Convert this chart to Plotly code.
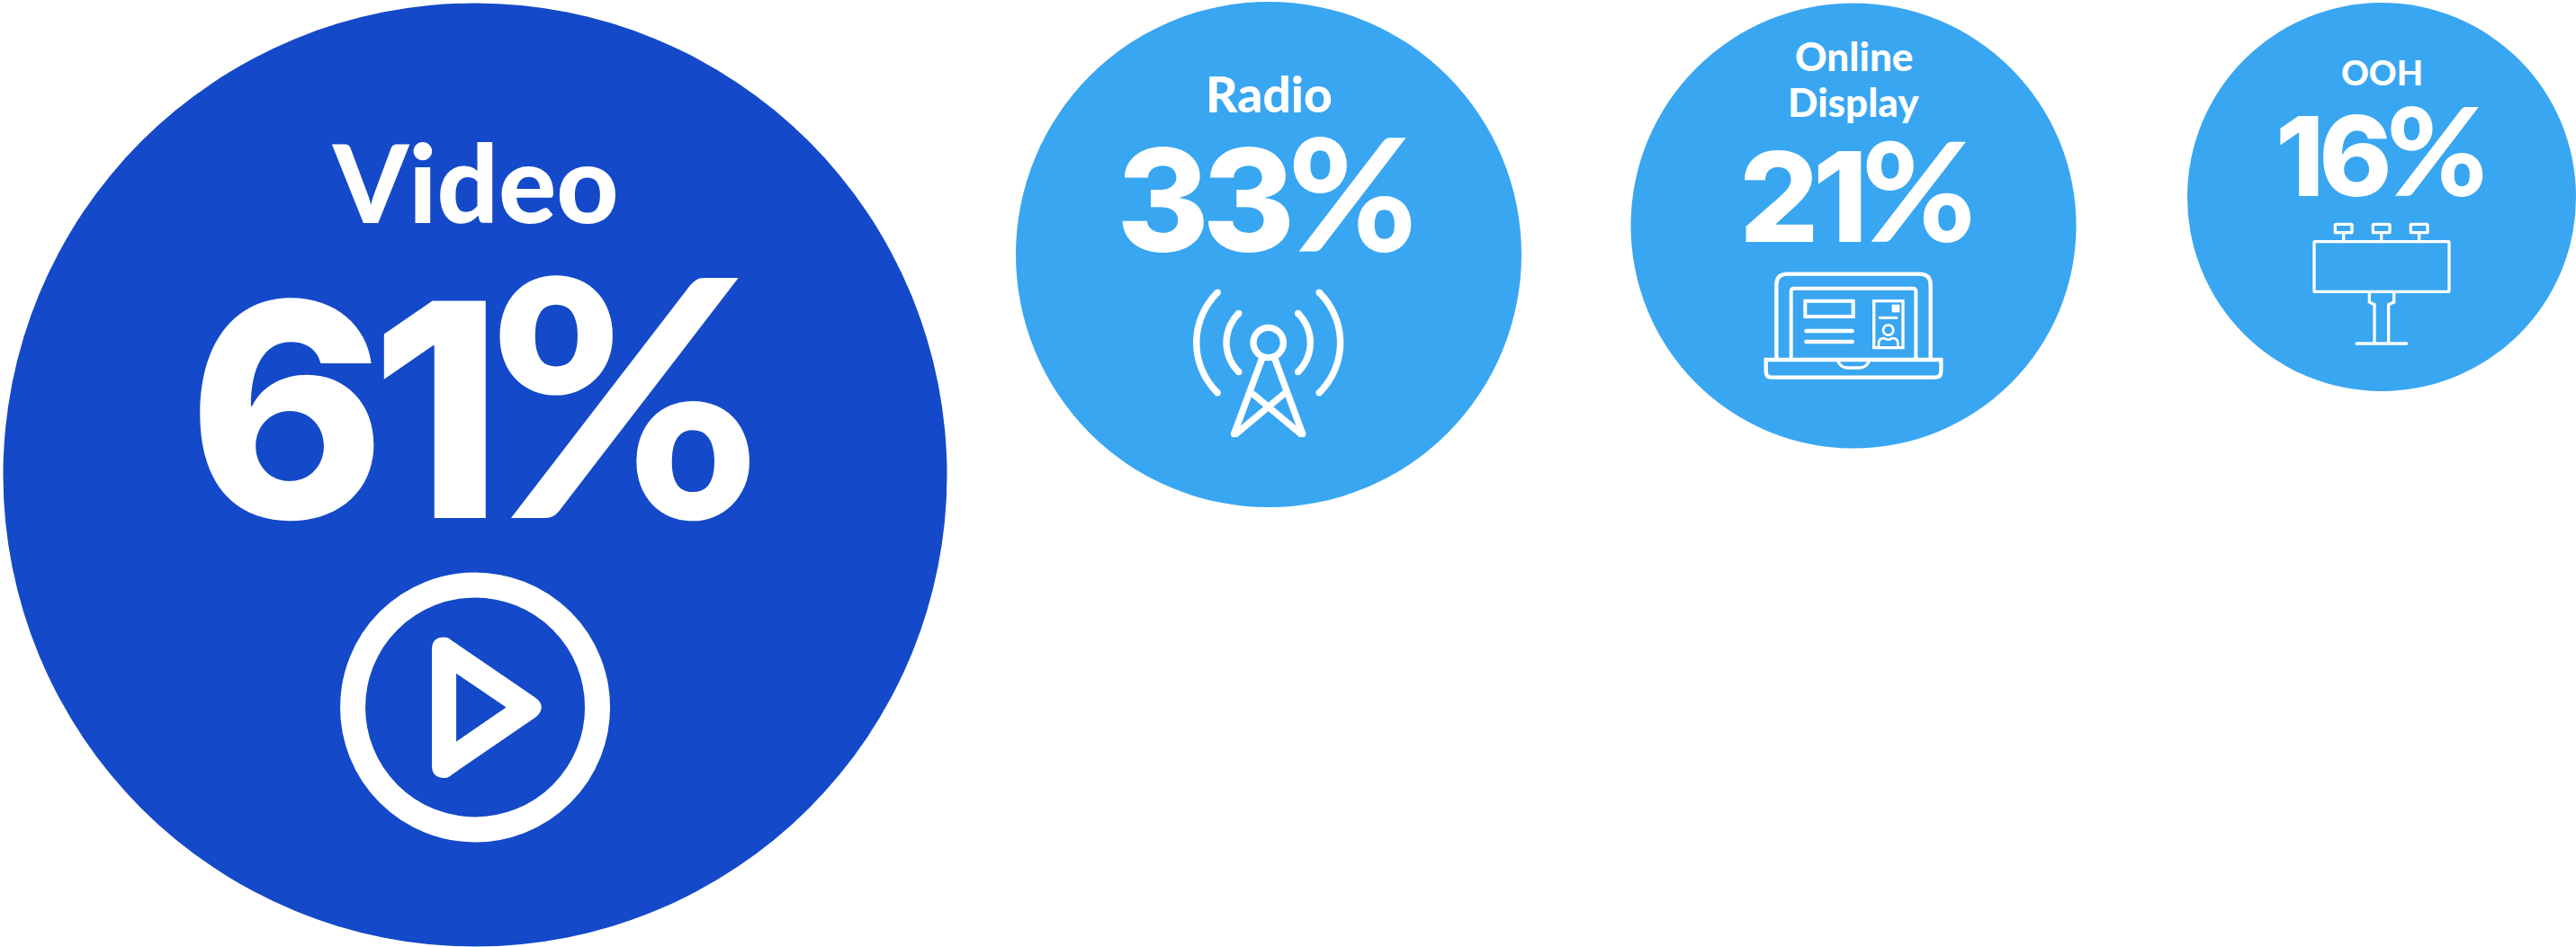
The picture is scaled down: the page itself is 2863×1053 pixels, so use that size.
import math
import plotly.graph_objects as go

# Media channels and their share
categories = ["Video", "Radio", "Online Display", "OOH"]
shares = [61, 33, 21, 16]

# Bubble layout on the page, in pixels
bubble_x = [528, 1410, 2060, 2647]
bubble_y = [528, 283, 251, 219]
bubble_diameter = [1049, 562, 495, 432]

DARK = "#1449C9"
LIGHT = "#39A6F1"
bubble_colors = [DARK, LIGHT, LIGHT, LIGHT]
WHITE = "#FFFFFF"
NAME_FONT = "Lato"
VALUE_FONT = "Inter"
WIDTH, HEIGHT = 2863, 1053

# Text placement: value label centre and size; category label line centres and size
value_pos = [(527, 434), (1408, 212), (2064, 210), (2646, 166)]
value_size = [350, 165, 146, 129]
name_lines_y = [[202], [104], [62, 113], [80]]
name_size = [120, 55, 44, 38]

shapes = []


def value_label(share, size):
    """Tightly spaced digits followed by a larger, rounder percent sign."""
    return (f'<span style="letter-spacing:-0.05em;font-size:{size * 0.95:.0f}px">{share}</span>'
            f'<span style="font-family:{NAME_FONT};font-weight:900;font-size:{size * 1.05:.0f}px">%</span>')


def grid(ox, oy, kx, ky):
    """Icon drawing grid: returns a mapper from grid units to page pixels."""
    return lambda x, y: (ox + x * kx, oy + y * ky)


def add_path(d, width=0, fill=None, rule=None):
    s = dict(type="path", path=d, xref="x", yref="y", layer="above",
             line=dict(color=WHITE, width=width),
             fillcolor=fill if fill else "rgba(0,0,0,0)")
    if rule:
        s["fillrule"] = rule
    shapes.append(s)


def add_dot(p, r):
    shapes.append(dict(type="circle", xref="x", yref="y", x0=p[0] - r, x1=p[0] + r,
                       y0=p[1] - r, y1=p[1] + r, fillcolor=WHITE,
                       line=dict(width=0, color=WHITE)))


def add_ring(p, r, width):
    shapes.append(dict(type="circle", xref="x", yref="y", x0=p[0] - r, x1=p[0] + r,
                       y0=p[1] - r, y1=p[1] + r, fillcolor="rgba(0,0,0,0)",
                       line=dict(width=width, color=WHITE)))


def polyline(points, width, caps=False, close=False):
    d = "M" + " L".join(f"{x:.2f},{y:.2f}" for x, y in points) + (" Z" if close else "")
    add_path(d, width)
    if caps:
        add_dot(points[0], width / 2)
        add_dot(points[-1], width / 2)


def rect(g, x0, y0, x1, y1, width, r=0):
    a, b = g(x0, y0), g(x1, y1)
    r *= g(1, 0)[0] - g(0, 0)[0]
    if r:
        d = (f"M{a[0]+r},{a[1]} L{b[0]-r},{a[1]} Q{b[0]},{a[1]} {b[0]},{a[1]+r} "
             f"L{b[0]},{b[1]-r} Q{b[0]},{b[1]} {b[0]-r},{b[1]} L{a[0]+r},{b[1]} "
             f"Q{a[0]},{b[1]} {a[0]},{b[1]-r} L{a[0]},{a[1]+r} Q{a[0]},{a[1]} {a[0]+r},{a[1]} Z")
    else:
        d = f"M{a[0]},{a[1]} L{b[0]},{a[1]} L{b[0]},{b[1]} L{a[0]},{b[1]} Z"
    add_path(d, width)


def q_path(g, cmds):
    """Build an SVG path from (letter, x, y, ...) tuples given in grid units."""
    out = []
    for c in cmds:
        if c[0] == "Z":
            out.append("Z")
            continue
        coords = []
        for i in range(1, len(c), 2):
            x, y = g(c[i], c[i + 1])
            coords.append(f"{x:.2f},{y:.2f}")
        out.append(c[0] + " ".join(coords))
    return " ".join(out)


def play_icon():
    g = grid(0, 0, 1 / 1.479, 1 / 1.489)
    add_ring(g(781, 1171), 136, 28)
    d = q_path(g, [("M", 710, 1268), ("L", 710, 1075), ("Q", 710, 1055, 730, 1055),
                   ("Q", 737, 1055, 742, 1060), ("L", 880, 1155), ("Q", 890, 1162, 890, 1171),
                   ("Q", 890, 1180, 880, 1188), ("L", 742, 1283), ("Q", 737, 1288, 730, 1288),
                   ("Q", 710, 1288, 710, 1268), ("Z",),
                   ("M", 750, 1115), ("L", 832, 1171), ("L", 750, 1228), ("Z",)])
    add_path(d, 0, WHITE, "evenodd")


def radio_icon():
    k = 1 / 2.703
    g = grid(1120, 0, k, 1 / 2.74)
    w = 20 * k
    cx, cy = 783, 1044
    add_ring(g(cx, cy), 45 * k, w)
    for radius in (126, 216):
        for centre in (180, 0):
            pts = [g(cx + radius * math.cos(math.radians(centre + a)),
                     cy + radius * math.sin(math.radians(centre + a)))
                   for a in range(-45, 46, 3)]
            polyline(pts, w, caps=True)
    polyline([g(763, 1095), g(680, 1322)], w, caps=True)
    polyline([g(803, 1095), g(886, 1322)], w, caps=True)
    polyline([g(682, 1325), g(832, 1198)], w)
    polyline([g(884, 1325), g(734, 1198)], w)


def laptop_icon():
    k = 1 / 3
    g = grid(1800, 0, k, k)
    add_path(q_path(g, [("M", 523, 1195), ("L", 523, 950), ("Q", 523, 914, 560, 914),
                        ("L", 1000, 914), ("Q", 1037, 914, 1037, 950), ("L", 1037, 1195)]), 13 * k)
    add_path(q_path(g, [("M", 572, 1195), ("L", 572, 972), ("Q", 572, 962, 582, 962),
                        ("L", 978, 962), ("Q", 988, 962, 988, 972), ("L", 988, 1195)]), 12 * k)
    add_path(q_path(g, [("M", 488, 1200), ("L", 1072, 1200), ("L", 1072, 1238),
                        ("Q", 1072, 1259, 1052, 1259), ("L", 508, 1259),
                        ("Q", 488, 1259, 488, 1238), ("Z",)]), 13 * k)
    add_path(q_path(g, [("M", 728, 1205), ("Q", 738, 1227, 760, 1227), ("L", 800, 1227),
                        ("Q", 822, 1227, 832, 1205)]), 10 * k)
    rect(g, 619, 1004, 779, 1056, 12 * k)
    polyline([g(622, 1104), g(776, 1104)], 13 * k, caps=True)
    polyline([g(622, 1140), g(776, 1140)], 13 * k, caps=True)
    rect(g, 848, 1004, 945, 1160, 10 * k)
    a, b = g(908, 1016), g(934, 1042)
    add_path(f"M{a[0]},{a[1]} L{b[0]},{a[1]} L{b[0]},{b[1]} L{a[0]},{b[1]} Z", 0, WHITE)
    polyline([g(868, 1060), g(924, 1060)], 9 * k, caps=True)
    add_ring(g(896, 1101), 17 * k, 8 * k)
    add_path(q_path(g, [("M", 864, 1155), ("L", 864, 1146), ("Q", 864, 1128, 882, 1128),
                        ("Q", 896, 1138, 910, 1128), ("Q", 928, 1128, 928, 1146), ("L", 928, 1155)]), 8 * k)


def billboard_icon():
    k = 1 / 3
    g = grid(2420, 0, k, k)
    w = 10 * k
    rect(g, 456, 806, 906, 973, w, 2)
    for left in (526, 652, 778):
        rect(g, left, 748, left + 56, 776, w, 3)
        polyline([g(left + 28, 776), g(left + 28, 806)], w)
    polyline([g(640, 973), g(640, 1008), g(657, 1016), g(657, 1142)], w)
    polyline([g(722, 973), g(722, 1008), g(704, 1016), g(704, 1142)], w)
    polyline([g(598, 1146), g(764, 1146)], 11 * k, caps=True)


play_icon()
radio_icon()
laptop_icon()
billboard_icon()

fig = go.Figure(go.Scatter(
    x=bubble_x, y=bubble_y, mode="markers", hoverinfo="skip", cliponaxis=False,
    customdata=shares, text=categories,
    marker=dict(size=bubble_diameter, sizemode="diameter", color=bubble_colors,
                opacity=1, line=dict(width=0)),
))

annotations = []
for i, (name, share) in enumerate(zip(categories, shares)):
    annotations.append(dict(x=value_pos[i][0], y=value_pos[i][1], text=value_label(share, value_size[i]),
                            showarrow=False, xanchor="center", yanchor="middle",
                            font=dict(family=VALUE_FONT, size=value_size[i], color=WHITE, weight=800)))
    for line, y in zip(name.split(" "), name_lines_y[i]):
        annotations.append(dict(x=bubble_x[i], y=y, text=line, showarrow=False,
                                xanchor="center", yanchor="middle",
                                font=dict(family=NAME_FONT, size=name_size[i], color=WHITE, weight=900)))

fig.update_layout(
    width=WIDTH, height=HEIGHT, margin=dict(l=0, r=0, t=0, b=0),
    paper_bgcolor="white", plot_bgcolor="white", showlegend=False,
    xaxis=dict(range=[0, WIDTH], visible=False, fixedrange=True),
    yaxis=dict(range=[HEIGHT, 0], visible=False, fixedrange=True),
    shapes=shapes, annotations=annotations,
)
fig.write_html("out.html", config=dict(displayModeBar=False))
